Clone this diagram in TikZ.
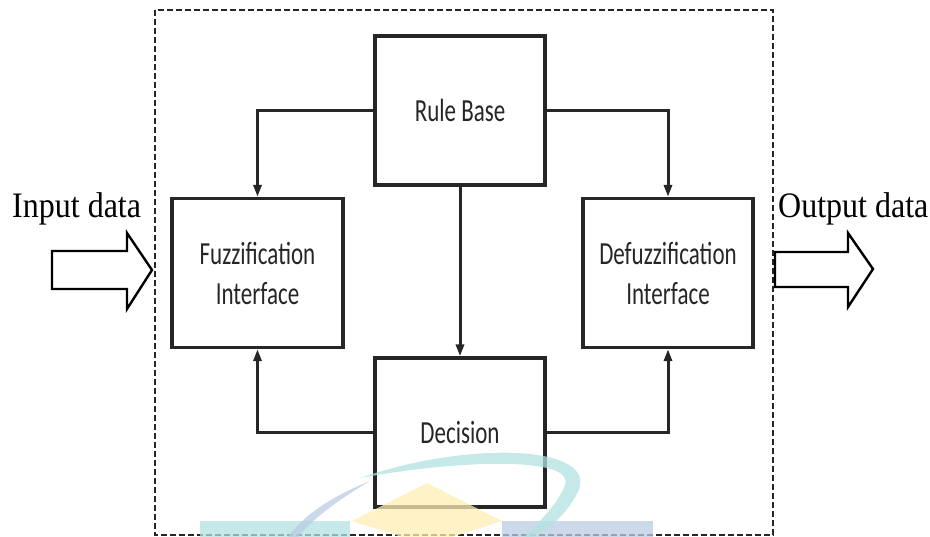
\documentclass[tikz,border=0pt]{standalone}
\usepackage{fontspec}
\usepackage{graphicx}
\setmainfont{Liberation Serif}
\newfontfamily\boxfont{Carlito}
\usetikzlibrary{arrows.meta}
\definecolor{wmteal}{RGB}{178,226,224}
\definecolor{wmyellow}{RGB}{255,238,180}
\definecolor{wmblue}{RGB}{185,204,228}
\newcommand{\tallt}[1]{\scalebox{1}[1.4]{#1}}
\newcommand{\tallio}[1]{\scalebox{1}[1.12]{#1}}
\tikzset{
  blk/.style={draw=black!85, line width=3.2pt, fill=white, minimum width=170pt, minimum height=149pt, inner sep=0pt, align=center, font=\boxfont\fontsize{23}{40}\selectfont, text=black!85},
  conn/.style={line width=3pt, draw=black!85, -{Triangle[length=12pt,width=8pt]}},
  bigarrow/.style={draw=black, line width=2.4pt, fill=white, line join=miter},
  lbl/.style={font=\fontsize{32}{36}\selectfont, inner sep=0pt, anchor=base west}
}
\begin{document}
\begin{tikzpicture}[x=1pt,y=-1pt]
\useasboundingbox (0,0) rectangle (930,537);
% dashed frame
\draw[line width=2pt, dash pattern=on 6pt off 3pt, black!85] (155,10) rectangle (773,535);
% blocks
\node[blk] (rule) at (460,110.5) {\tallt{Rule Base}};
\node[blk, minimum width=171pt] (fuzz) at (257.5,273) {\tallt{Fuzzification}\\\tallt{Interface}};
\node[blk] (defuzz) at (668,273) {\tallt{Defuzzification}\\\tallt{Interface}};
\node[blk] (dec) at (460,432.5) {\tallt{Decision}};
% connectors
\draw[conn] (rule.west) -| (fuzz.north);
\draw[conn] (rule.east) -| (defuzz.north);
\draw[conn] (rule.south) -- (dec.north);
\draw[conn] (dec.west) -| (fuzz.south);
\draw[conn] (dec.east) -| (defuzz.south);
% input / output
\node[lbl] (inlbl) at (12,218) {\tallio{Input data}};
\node[lbl] (outlbl) at (778,218) {\tallio{Output data}};
\coordinate (intip) at (152,270);
\coordinate (outtip) at (873,269);
\draw[bigarrow] (52,251) -- (127,251) -- (127,233) -- (intip) -- (127,309) -- (127,289) -- (52,289) -- cycle;
\draw[bigarrow] (775,252) -- (848,252) -- (848,233) -- (outtip) -- (848,307) -- (848,287) -- (775,287) -- cycle;
% watermark
\begin{scope}[opacity=0.75]
\fill[wmteal] (200,521) rectangle (350,537);
\fill[wmblue] (502,521) rectangle (653,537);
\fill[wmyellow] (352,521) -- (427,483) -- (502,521) -- (427,545) -- cycle;
\fill[wmteal] (360,478) .. controls (470,440) and (600,445) .. (578,492) .. controls (566,515) and (548,530) .. (533,537) -- (524,537) .. controls (542,520) and (560,500) .. (565,485) .. controls (575,458) and (470,458) .. (360,478) -- cycle;
\fill[wmblue] (370,481) .. controls (333,496) and (303,515) .. (288,537) -- (298,537) .. controls (316,515) and (345,496) .. (370,481) -- cycle;
\end{scope}
\end{tikzpicture}
\end{document}
